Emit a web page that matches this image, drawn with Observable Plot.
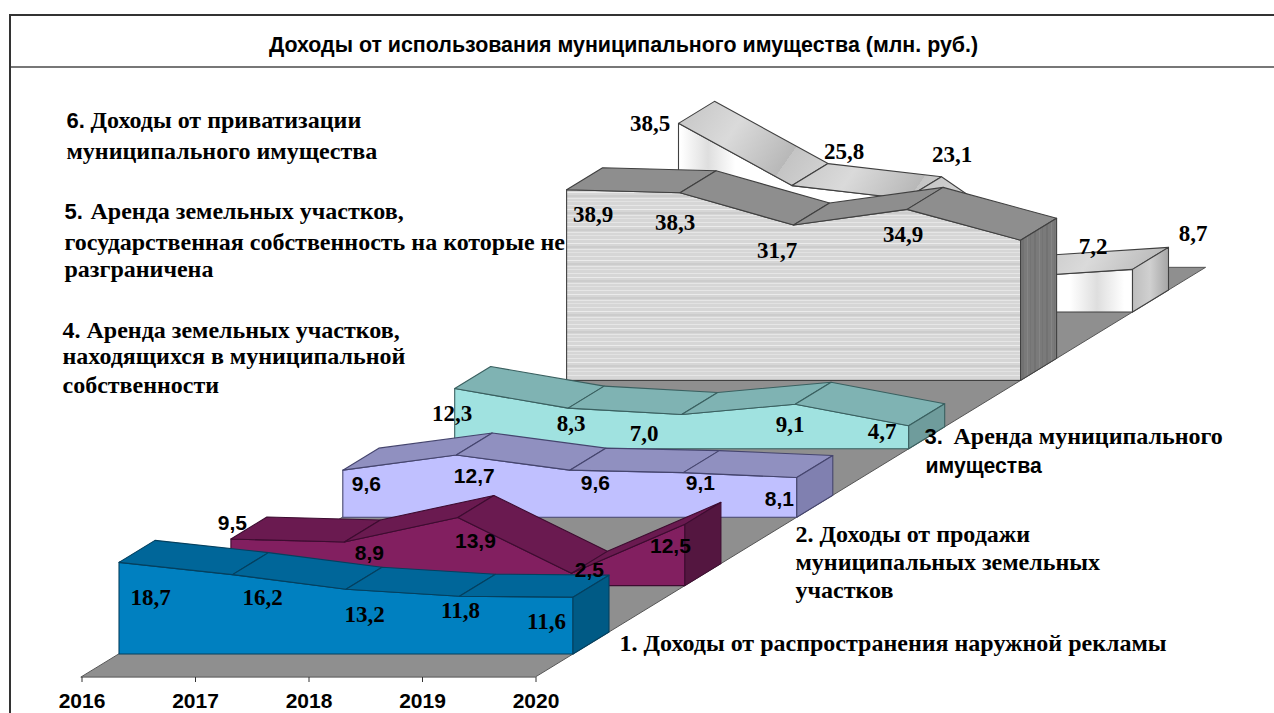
<!DOCTYPE html>
<html lang="ru">
<head>
<meta charset="utf-8">
<script src="https://cdn.jsdelivr.net/npm/d3@7"></script>
<script src="https://cdn.jsdelivr.net/npm/@observablehq/plot@0.6"></script>
<style>
html,body{margin:0;padding:0;background:#fff;overflow:hidden;width:1274px;height:713px}
#frame{position:absolute;left:9px;top:14px;width:1265px;height:699px;border-left:2px solid #333;border-top:2px solid #333;box-sizing:border-box}
#band{position:absolute;left:0;right:0;top:50px;height:2px;background:#777}
#chart{position:absolute;left:0;top:0}
#chart svg{background:transparent;display:block}
</style>
</head>
<body>
<div id="frame"><div id="band"></div></div>
<div id="chart"></div>
<script>
// ---- data (million rubles) ----
const years = [2016, 2017, 2018, 2019, 2020];
const outdoorAds   = [18.7, 16.2, 13.2, 11.8, 11.6];
const landSales    = [9.5, 8.9, 13.9, 2.5, 12.5];
const propertyRent = [9.6, 12.7, 9.6, 9.1, 8.1];
const municipalLandRent = [12.3, 8.3, 7.0, 9.1, 4.7];
const stateLandRent = [38.9, 38.3, 31.7, 34.9, 28.6];
const privatization = [38.5, 25.8, 23.1, 7.2, 8.7];
const seriesValues = [outdoorAds, landSales, propertyRent, municipalLandRent, stateLandRent, privatization];
const titleText = "Доходы от использования муниципального имущества (млн. руб.)";

// ---- layout: oblique projection, expressed in data units ----
const seriesStepX = 111.9 / 113.5, seriesStepY = 68.4 / 4.9;
const depthX = 36 / 113.5, depthY = 22 / 4.9;
const px = (year, s, d = 0) => year + s * seriesStepX + d * depthX;
const py = (v, s, d = 0) => v + s * seriesStepY + d * depthY;

const styles = [
  {front: "#0080c0", top: "#006699", side: "#005a85", stroke: "#04405f"},
  {front: "#821f60", top: "#6a1a50", side: "#541640", stroke: "#3d0c30"},
  {front: "#c0c0ff", top: "#9090c0", side: "#8080b0", stroke: "#45456e"},
  {front: "#a0e2e0", top: "#7fb3b3", side: "#6f9c9c", stroke: "#3a6060"},
  {front: "url(#stripes)", top: "#8e8e8e", side: "url(#vstripes)", stroke: "#404040"},
  {front: "url(#sheenFront)", top: "url(#sheenTop)", side: "url(#sheenSide)", stroke: "#404040"}
];

function faces(s) {
  const vals = seriesValues[s], st = styles[s], last = years.length - 1;
  const front = years.map((yr, i) => ({x1: px(yr, s), x2: px(yr, s), y1: py(0, s), y2: py(vals[i], s)}));
  const top = [];
  for (let i = 0; i < last; ++i) {
    for (const j of [i, i + 1]) {
      top.push({seg: i, x1: px(years[j], s), x2: px(years[j], s, 1), y1: py(vals[j], s), y2: py(vals[j], s, 1)});
    }
  }
  const side = [0, 1].map(d => ({
    x1: px(years[last], s, d), x2: px(years[last], s, d),
    y1: py(0, s, d), y2: py(vals[last], s, d)
  }));
  const area = (data, fill, z) => Plot.area(data, {
    x1: "x1", x2: "x2", y1: "y1", y2: "y2", z, fill, stroke: st.stroke, strokeWidth: 1.1, curve: "linear"
  });
  return [area(front, st.front), area(top, st.top, "seg"), area(side, st.side)];
}

// floor, from the front edge of the axis to behind the last series
const floorFrontD = -1.05, floorBackD = 2.03;
const floor = [2016, 2020].map(yr => ({
  x1: px(yr, 0, floorFrontD), x2: px(yr, 5, floorBackD),
  y1: py(0, 0, floorFrontD), y2: py(0, 5, floorBackD)
}));

// ---- layout: value label nudges (pixels), per series and year ----
const nudges = [
  [[31,35],[29.5,23],[18,25],[0.5,14],[-27,24]],
  [[1,-16],[24.5,11],[17,23.5],[17.5,-3.4],[-15,21]],
  [[23,14],[17.5,21],[25,13],[16.5,10],[-18,21.5]],
  [[-3,24.5],[2.5,15],[-38,18.5],[-5.5,20],[-27,5]],
  [[26,24],[-5.5,29],[-17,25],[-4.5,24.6],null],
  [[-29,0],[51.5,-34.6],[46,-45],[73.5,-31],[60,-36]]
];
const SERIF = "'Liberation Serif', serif", SANS = "'Liberation Sans', sans-serif";
const labelFonts = [SERIF, SANS, SANS, SERIF, SERIF, SERIF];

function valueLabels(s) {
  const rows = years.map((yr, i) => ({yr, v: seriesValues[s][i], n: nudges[s][i]})).filter(d => d.n);
  return rows.map(d => Plot.text([d], {
    x: r => px(r.yr, s), y: r => py(r.v, s),
    text: r => r.v.toFixed(1).replace(".", ","),
    dx: d.n[0], dy: d.n[1],
    fontFamily: labelFonts[s], fontWeight: 700, fontSize: labelFonts[s] === SERIF ? 23 : 21, fill: "#000"
  }));
}

// ---- layout: captions ----
const note = (text, x, y, font = SERIF, size = 24) => Plot.text([text], {
  text: d => d, frameAnchor: "top-left", dx: x, dy: y, textAnchor: "start", lineAnchor: "middle",
  fontFamily: font, fontWeight: 700, fontSize: size, fill: "#000"
});
const captions = [
  note("6.", 66, 120, SANS, 22),
  note("Доходы от приватизации", 90, 120),
  note("муниципального имущества", 66, 151),
  note("5.", 64, 211, SANS, 22),
  note("Аренда земельных участков,", 90, 211),
  note("государственная собственность на которые не", 64, 242),
  note("разграничена", 64, 269),
  note("4. Аренда земельных участков,", 62, 330),
  note("находящихся в муниципальной", 62, 356),
  note("собственности", 62, 385),
  note("3.", 924, 436, SANS, 22),
  note("Аренда муниципального", 953, 436),
  note("имущества", 925, 466, SANS, 21.2),
  note("2. Доходы от продажи", 795, 534),
  note("муниципальных земельных", 795, 562),
  note("участков", 795, 590),
  note("1. Доходы от распространения наружной рекламы", 619, 643),
  Plot.text([titleText], {
    text: d => d, frameAnchor: "top-left", dx: 623, dy: 45, textAnchor: "middle", lineAnchor: "middle",
    fontFamily: SANS, fontWeight: 700, fontSize: 21.4, fill: "#000"
  })
];

// ---- textures ----
const defs = () => d3.create("svg:defs").html(`
  <pattern id="stripes" patternUnits="userSpaceOnUse" width="8" height="17">
    <rect width="8" height="17" fill="#d6d6d6"/>
    <rect y="1" width="8" height="1" fill="#e6e6e6"/>
    <rect y="5" width="8" height="1" fill="#ebebeb"/>
    <rect y="8" width="8" height="2" fill="#cccccc"/>
    <rect y="11" width="8" height="1" fill="#e6e6e6"/>
    <rect y="14" width="8" height="1" fill="#e2e2e2"/>
  </pattern>
  <pattern id="vstripes" patternUnits="userSpaceOnUse" width="12" height="8">
    <rect width="12" height="8" fill="#7a7a7a"/>
    <rect x="2" width="2" height="8" fill="#727272"/>
    <rect x="7" width="1" height="8" fill="#858585"/>
    <rect x="10" width="1" height="8" fill="#747474"/>
  </pattern>
  <linearGradient id="sheenFront" gradientUnits="userSpaceOnUse" x1="513.5" y1="0" x2="902.5" y2="0" spreadMethod="repeat">
    <stop offset="0.43" stop-color="#fff"/><stop offset="0.5" stop-color="#dedede"/><stop offset="0.57" stop-color="#fff"/>
  </linearGradient>
  <linearGradient id="sheenTop" gradientUnits="userSpaceOnUse" x1="680" y1="100" x2="780" y2="170" spreadMethod="repeat">
    <stop offset="0" stop-color="#c4c4c4"/><stop offset="0.5" stop-color="#dadada"/><stop offset="1" stop-color="#b8b8b8"/>
  </linearGradient>
  <linearGradient id="sheenSide" gradientUnits="userSpaceOnUse" x1="1132" y1="0" x2="1168" y2="0">
    <stop offset="0" stop-color="#bdbdbd"/><stop offset="0.5" stop-color="#d0d0d0"/><stop offset="1" stop-color="#a6a6a6"/>
  </linearGradient>`).node();

const order = [5, 4, 3, 2, 1, 0];
const chart = Plot.plot({
  width: 1274, height: 713,
  marginTop: 0, marginRight: 0, marginLeft: 0, marginBottom: 59,
  style: {background: "transparent"},
  x: {domain: [2016, 2020], range: [119, 573]},
  y: {domain: [0, 10], range: [654, 605], axis: null},
  marks: [
    defs,
    Plot.area(floor, {x1: "x1", x2: "x2", y1: "y1", y2: "y2", fill: "#8f8f8f", stroke: "#555", strokeWidth: 1}),
    ...order.flatMap(faces),
    Plot.axisX({
      ticks: years, tickFormat: d => String(d), label: null, tickSize: 5, tickPadding: 11,
      dx: -37.5, dy: 23, stroke: "#333", fontFamily: SANS, fontWeight: 700, fontSize: 21, fill: "#000"
    }),
    ...order.flatMap(valueLabels),
    ...captions
  ]
});
document.getElementById("chart").append(chart);
</script>
</body>
</html>
